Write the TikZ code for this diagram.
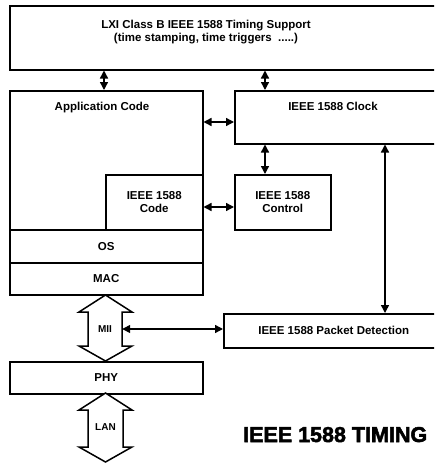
\documentclass[tikz,border=0pt]{standalone}
\usepackage{fontspec}
\setmainfont{Liberation Sans}
\newfontfamily\headfont[FakeBold=2.4]{Liberation Sans Bold}
\usetikzlibrary{arrows.meta}
\tikzset{
  box/.style={draw, line width=1.5pt, inner sep=0pt, anchor=north west,
    font=\fontsize{11.5}{12.5}\selectfont\bfseries, align=center},
  lbl/.style={inner sep=0pt, font=\fontsize{11.5}{12.5}\selectfont\bfseries, align=center},
  dbl/.style={line width=1.4pt, {Triangle[length=8pt,width=8pt]}-{Triangle[length=8pt,width=8pt]}},
  fat/.style={draw, line width=1.5pt, line join=miter, fill=white}
}
\begin{document}
\begin{tikzpicture}[x=1pt,y=-1pt]
\useasboundingbox (0,0) rectangle (434,463);
\clip (0,0) rectangle (434,463);

% top level: LXI timing support
\node[box, minimum width=429pt, minimum height=64pt] (top) at (9,5) {};
\node[lbl] (toptxt) at (206,32) {LXI Class B IEEE 1588 Timing Support\\(time stamping, time triggers\ \ .....)};

% host stack
\node[box, minimum width=193pt, minimum height=139pt] (app) at (9,90) {};
\node[lbl] (apptxt) at (102,108) {Application Code};
\node[box, minimum width=97pt, minimum height=55pt] (code) at (105,174) {IEEE 1588\\Code};
\node[box, minimum width=193pt, minimum height=33pt] (os) at (9,229) {OS};
\node[box, minimum width=193pt, minimum height=32pt] (mac) at (9,262) {MAC};
\node[box, minimum width=193pt, minimum height=32pt] (phy) at (9,361) {PHY};

% timing hardware
\node[box, minimum width=204pt, minimum height=53pt] (clock) at (234,90) {};
\node[lbl] (clocktxt) at (333,106) {IEEE 1588 Clock};
\node[box, minimum width=96pt, minimum height=55pt] (control) at (234,174) {IEEE 1588\\Control};
\node[box, minimum width=220pt, minimum height=34pt] (packet) at (223,313) {IEEE 1588 Packet Detection};

% connectors
\draw[dbl] ([xshift=95pt]top.south west) -- ([xshift=95pt]app.north west);
\draw[dbl] ([xshift=256pt]top.south west) -- ([xshift=31pt]clock.north west);
\draw[dbl] ([yshift=-32pt]app.north east) -- ([yshift=-32pt]clock.north west);
\draw[dbl] ([xshift=31pt]clock.south west) -- ([xshift=31pt]control.north west);
\draw[dbl] ([yshift=-33pt]code.north east) -- ([yshift=-33pt]control.north west);
\draw[dbl] ([xshift=151pt]clock.south west) -- ([xshift=162pt]packet.north west);

% MII and LAN interfaces
\draw[fat] (105.5,295) -- (132,312) -- (122,312) -- (122,346) -- (132,346)
  -- (105.5,361) -- (79,346) -- (88,346) -- (88,312) -- (79,312) -- cycle;
\node[lbl, minimum width=34pt, font=\fontsize{10}{11}\selectfont\bfseries] (mii) at (105,329) {MII};
\draw[dbl] (mii.east) -- (mii.east -| packet.west);

\draw[fat] (105.5,393) -- (132,410) -- (123,410) -- (123,447) -- (132,447)
  -- (105.5,462) -- (79,447) -- (88,447) -- (88,410) -- (79,410) -- cycle;
\node[lbl, font=\fontsize{10}{11}\selectfont\bfseries] (lan) at (105.5,427) {LAN};

% caption
\node[inner sep=0pt, anchor=base west, font=\fontsize{21.5}{22}\headfont] (cap) at (243,442) {IEEE 1588 TIMING};
\end{tikzpicture}
\end{document}
